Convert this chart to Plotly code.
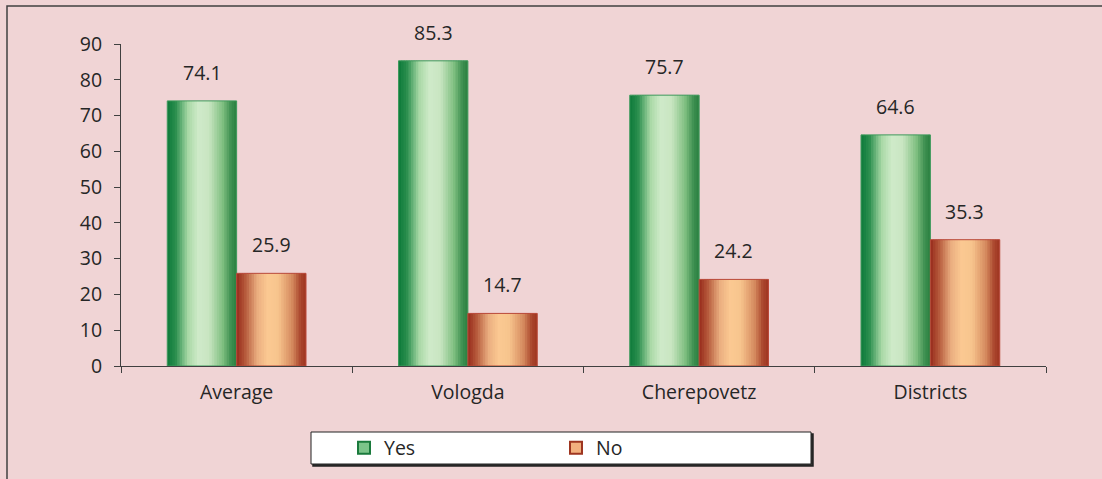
import plotly.graph_objects as go

categories = ["Average", "Vologda", "Cherepovetz", "Districts"]
yes_values = [74.1, 85.3, 75.7, 64.6]
no_values = [25.9, 14.7, 24.2, 35.3]
series_names = ["Yes", "No"]
y_ticks = [0, 10, 20, 30, 40, 50, 60, 70, 80, 90]

FONT = "Open Sans, sans-serif"
FS = 19.5
BG = "#F0D4D5"
TXT = "#262626"

green_stops = [(0.0, (14, 122, 58)), (0.12, (42, 142, 78)), (0.3, (169, 217, 166)),
               (0.45, (207, 234, 201)), (0.6, (201, 230, 194)), (0.8, (127, 191, 128)),
               (0.92, (61, 143, 80)), (1.0, (43, 128, 64))]
orange_stops = [(0.0, (152, 42, 28)), (0.12, (180, 88, 58)), (0.3, (235, 174, 128)),
                (0.45, (251, 201, 146)), (0.6, (247, 196, 141)), (0.8, (213, 138, 94)),
                (0.92, (170, 70, 45)), (1.0, (158, 53, 32))]


def interp(stops, t):
    for (p0, c0), (p1, c1) in zip(stops[:-1], stops[1:]):
        if p0 <= t <= p1:
            f = (t - p0) / (p1 - p0) if p1 > p0 else 0
            c = [round(a + (b - a) * f) for a, b in zip(c0, c1)]
            return "rgb(%d,%d,%d)" % tuple(c)
    return "rgb(%d,%d,%d)" % stops[-1][1]


BAR_W = 0.3
N = 28
fig = go.Figure()

series = [(yes_values, -BAR_W, green_stops, "#3E9A5C", "#7CC48A", "#1A7A3C"),
          (no_values, 0.0, orange_stops, "#B9493A", "#F2B07E", "#9E3520")]

for (vals, base, stops, outline, legfill, legline), name in zip(series, series_names):
    sw = BAR_W / N
    for k in range(N):
        t = (k + 0.5) / N
        w = sw * 1.6 if k < N - 1 else sw
        fig.add_trace(go.Bar(x=categories, y=vals, offset=base + k * sw, width=w,
                             marker=dict(color=interp(stops, t), line=dict(width=0)),
                             showlegend=False, hoverinfo="skip"))
    fig.add_trace(go.Bar(x=categories, y=vals, offset=base, width=BAR_W,
                         marker=dict(color="rgba(0,0,0,0)", line=dict(color=outline, width=1)),
                         showlegend=False, name=name))
    fig.add_trace(go.Bar(x=categories, y=[None] * len(categories), name=name,
                         marker=dict(color=legfill, line=dict(color=legline, width=2))))

annotations = []
for vals, shift in [(yes_values, -34.6), (no_values, 34.6)]:
    for c, v in zip(categories, vals):
        annotations.append(dict(x=c, y=v, text=f"{v:.1f}", showarrow=False,
                                xshift=shift, yshift=13, yanchor="bottom",
                                font=dict(family=FONT, size=FS, color=TXT)))

W, H = 1102, 479
L, R, T, B = 121, 1046, 44, 366  # plot area in page pixels


def px_x(p):
    return (p - L) / (R - L)


def px_y(p):
    return (B - p) / (B - T)


shapes = [
    dict(type="rect", xref="paper", yref="paper", x0=px_x(7), x1=px_x(1110),
         y0=px_y(6), y1=px_y(490), line=dict(color="#404040", width=1.5),
         fillcolor="rgba(0,0,0,0)", layer="below"),
    dict(type="rect", xref="paper", yref="paper", x0=px_x(313), x1=px_x(813),
         y0=px_y(434), y1=px_y(466), line=dict(color="#222222", width=1.5),
         fillcolor="#333333", layer="below"),
    dict(type="rect", xref="paper", yref="paper", x0=px_x(311), x1=px_x(811),
         y0=px_y(432), y1=px_y(464), line=dict(color="#222222", width=1),
         fillcolor="white", layer="below"),
]

fig.update_layout(
    width=W, height=H,
    margin=dict(l=L, r=W - R, t=T, b=H - B, pad=0),
    paper_bgcolor=BG, plot_bgcolor=BG,
    barmode="overlay",
    font=dict(family=FONT, size=FS, color=TXT),
    annotations=annotations,
    shapes=shapes,
    showlegend=True,
    legend=dict(orientation="h", x=px_x(344), xanchor="left", y=px_y(448), yanchor="middle",
                bgcolor="rgba(0,0,0,0)", borderwidth=0, entrywidth=167, entrywidthmode="pixels",
                font=dict(family=FONT, size=FS, color=TXT), itemclick=False),
    xaxis=dict(type="category", categoryorder="array", categoryarray=categories,
               showline=True, linecolor="#404040", linewidth=1, ticks="outside",
               tickson="boundaries", ticklen=6, tickcolor="#404040", showgrid=False,
               zeroline=False, fixedrange=True, ticklabelstandoff=9,
               tickfont=dict(family=FONT, size=FS, color=TXT)),
    yaxis=dict(range=[0, 90], tickvals=y_ticks, showline=True, linecolor="#404040",
               linewidth=1, ticks="outside", ticklen=6, tickcolor="#404040",
               showgrid=False, zeroline=False, fixedrange=True, ticklabelstandoff=8,
               tickfont=dict(family=FONT, size=FS, color=TXT)),
)

fig.write_html("out.html", config={"displayModeBar": False},
               post_script="document.body.style.margin='0';document.body.style.overflow='hidden';"
                           "document.body.style.background='%s';" % BG)
